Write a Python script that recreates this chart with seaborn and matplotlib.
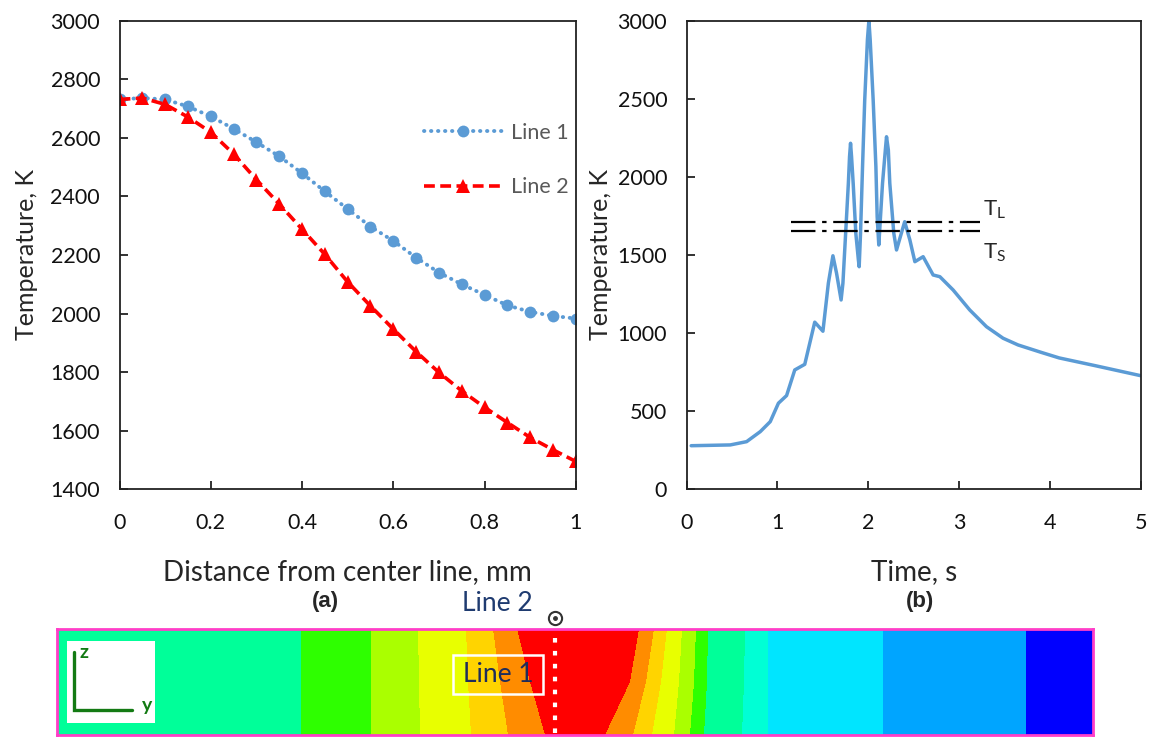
import numpy as np
import pandas as pd
import matplotlib
matplotlib.use("Agg")
import matplotlib.pyplot as plt
from matplotlib.colors import ListedColormap
from matplotlib.patches import Rectangle
from matplotlib.ticker import FuncFormatter
import seaborn as sns

# ---------------- data ----------------
distance_mm = [0, 0.05, 0.1, 0.15, 0.2, 0.25, 0.3, 0.35, 0.4, 0.45, 0.5,
               0.55, 0.6, 0.65, 0.7, 0.75, 0.8, 0.85, 0.9, 0.95, 1.0]
line1_temp = [2731, 2736, 2731, 2707, 2673, 2631, 2585, 2537, 2479, 2417, 2357,
              2297, 2248, 2191, 2140, 2100, 2064, 2028, 2006, 1992, 1983]
line2_temp = [2731, 2736, 2714, 2671, 2619, 2545, 2457, 2374, 2288, 2202, 2108,
              2026, 1947, 1870, 1799, 1736, 1680, 1628, 1577, 1535, 1495]

time_s = [0.05, 0.48, 0.66, 0.81, 0.92, 1.01, 1.10, 1.19, 1.30, 1.41, 1.50,
          1.56, 1.61, 1.65, 1.70, 1.72, 1.75, 1.78, 1.793, 1.804, 1.815, 1.833,
          1.862, 1.89, 1.899, 1.914, 1.936, 1.96, 1.99, 2.006, 2.02, 2.053,
          2.083, 2.097, 2.115, 2.156, 2.187, 2.20, 2.22, 2.236, 2.28, 2.31,
          2.40, 2.457, 2.512, 2.603, 2.713, 2.787, 2.933, 3.116, 3.30, 3.483,
          3.648, 3.90, 4.10, 4.50, 5.00]
time_temp = [279, 284, 305, 369, 433, 551, 600, 764, 800, 1070, 1012,
             1320, 1495, 1383, 1212, 1319, 1639, 1959, 2130, 2215, 2130, 1959,
             1639, 1470, 1425, 1640, 2065, 2492, 2880, 3000, 2880, 2492,
             2065, 1745, 1564, 1959, 2172, 2257, 2172, 1959, 1639, 1532,
             1713, 1596, 1457, 1489, 1372, 1361, 1276, 1148, 1041, 967,
             924, 877, 841, 791, 727]

T_liquidus = 1710
T_solidus = 1655
melt_line_span = [1.144, 3.224]

# contour strip: band colours (left -> right) and band boundaries (px from strip's left edge)
band_colors = ["#00FF99", "#2EFF00", "#AAFF00", "#E8FF00", "#FFD400", "#FF8C00",
               "#FF0000", "#FF8C00", "#FFD400", "#E8FF00", "#AAFF00", "#2EFF00",
               "#00FF99", "#00FFD5", "#00E5FF", "#00A5FF", "#0000FF"]
boundary_top = [244, 314, 361, 409, 436, 460, 582, 597, 610, 625, 639, 651, 688, 711, 826, 969]
boundary_mid = [244, 314, 362, 411, 443, 473, 573, 589, 604, 622, 637, 650, 687, 711, 826, 969]
boundary_bot = [244, 314, 363, 414, 451, 488, 548, 576, 595, 617, 633, 647, 685, 711, 826, 969]
strip_width, strip_height = 1036, 106

# ---------------- style ----------------
sns.set_style("ticks")
plt.rcParams["font.family"] = ["Lato", "DejaVu Sans"]
plt.rcParams["mathtext.fontset"] = "custom"
plt.rcParams["mathtext.rm"] = "Lato"

blue = "#5B9BD5"
red = "#FF0000"
spine_col = "#222222"
tick_fs = 15.5
xlabel_fs = 20
ylabel_fs = 18

fig = plt.figure(figsize=(11.55, 7.38), dpi=100)
axL = fig.add_axes([0.1035, 0.337, 0.395, 0.635])
axR = fig.add_axes([0.5945, 0.337, 0.3933, 0.635])
axP = fig.add_axes([0.0494, 0.0041, 0.897, 0.1436])

# ---------------- left plot ----------------
dfL = pd.DataFrame({"d": distance_mm, "l1": line1_temp, "l2": line2_temp})
sns.lineplot(data=dfL, x="d", y="l1", ax=axL, color=blue, lw=2.8,
             linestyle=(0, (0.1, 1.7)), dash_capstyle="round",
             marker="o", markersize=8.5, markeredgewidth=0, label="Line 1")
sns.lineplot(data=dfL, x="d", y="l2", ax=axL, color=red, lw=2.6,
             linestyle=(0, (3.0, 1.5)), marker="^", markersize=10.5,
             markeredgewidth=0, label="Line 2")
axL.set_xlim(0, 1)
axL.set_ylim(1400, 3000)
axL.set_xticks(np.arange(0, 1.01, 0.2))
axL.set_yticks(np.arange(1400, 3001, 200))
axL.xaxis.set_major_formatter(FuncFormatter(lambda v, p: f"{v:g}"))
axL.set_xlabel("Distance from center line, mm", fontsize=xlabel_fs, labelpad=19)
axL.set_ylabel("Temperature, K", fontsize=ylabel_fs, labelpad=9)
leg = axL.legend(loc="center right", bbox_to_anchor=(0.985, 0.703), frameon=False,
                 fontsize=15.5, handlelength=3.6, handletextpad=0.45, labelspacing=1.6,
                 borderaxespad=0, borderpad=0)
for t in leg.get_texts():
    t.set_color("#595959")

# ---------------- right plot ----------------
dfR = pd.DataFrame({"t": time_s, "T": time_temp})
sns.lineplot(data=dfR, x="t", y="T", ax=axR, color=blue, lw=2.5, sort=False,
             solid_joinstyle="round", solid_capstyle="round")
axR.hlines([T_liquidus, T_solidus], melt_line_span[0], melt_line_span[1],
           colors="black", lw=1.6, linestyles=[(0, (11, 3, 2, 3))])
axR.text(3.26, 1790, r"T$_\mathregular{L}$", fontsize=16, va="center", ha="left")
axR.text(3.26, 1515, r"T$_\mathregular{S}$", fontsize=16, va="center", ha="left")
axR.set_xlim(0, 5)
axR.set_ylim(0, 3000)
axR.set_xticks(range(0, 6))
axR.set_yticks(range(0, 3001, 500))
axR.set_xlabel("Time, s", fontsize=xlabel_fs, labelpad=19)
axR.set_ylabel("Temperature, K", fontsize=ylabel_fs, labelpad=4)

for ax in (axL, axR):
    for s in ax.spines.values():
        s.set_visible(True)
        s.set_color(spine_col)
        s.set_linewidth(1.3)
    ax.tick_params(direction="in", length=6, width=1.3, color=spine_col,
                   labelsize=tick_fs, labelcolor="#111111")
    ax.tick_params(axis="x", pad=17)
    ax.tick_params(axis="y", pad=14)
    ax.grid(False)

fig.text(325 / 1155, 1 - 601 / 738, "(a)", fontsize=16, fontweight="bold",
         family="Liberation Sans", ha="center", va="center")
fig.text(920 / 1155, 1 - 601 / 738, "(b)", fontsize=16, fontweight="bold",
         family="Liberation Sans", ha="center", va="center")

# ---------------- contour strip ----------------
rows = np.arange(strip_height) + 0.5
cols = np.arange(strip_width) + 0.5
frac = rows / strip_height
bt, bm, bb = (np.array(b, float) for b in (boundary_top, boundary_mid, boundary_bot))
field = np.zeros((strip_height, strip_width))
for i, f in enumerate(frac):
    if f <= 0.5:
        b = bt + (bm - bt) * (f / 0.5)
    else:
        b = bm + (bb - bm) * ((f - 0.5) / 0.5)
    field[i] = np.searchsorted(b, cols)
sns.heatmap(field, ax=axP, cmap=ListedColormap(band_colors), vmin=-0.5,
            vmax=len(band_colors) - 0.5, cbar=False, xticklabels=False,
            yticklabels=False, rasterized=True)
axP.set_xlim(0, strip_width)
axP.set_ylim(strip_height, 0)
for s in axP.spines.values():
    s.set_visible(True)
    s.set_color("#FF3EC8")
    s.set_linewidth(2)

line2_x = 498
axP.axvline(line2_x, ymin=0.02, ymax=0.93, color="white", lw=3,
            linestyle=(0, (1.1, 2.0)))
axP.plot([line2_x], [-11], marker="o", ms=9.5, mfc="none", mec="#333333",
         mew=1.5, clip_on=False)
axP.plot([line2_x], [-11], marker="o", ms=2.5, color="#333333", clip_on=False)
axP.text(440, -26, "Line 2", fontsize=19, color="#1F3B70", ha="center",
         va="center", clip_on=False)
axP.add_patch(Rectangle((396, 26), 90, 39, fill=False, ec="white", lw=1.8))
axP.text(441, 46, "Line 1", fontsize=19, color="#1F2D5C", ha="center", va="center")
axP.add_patch(Rectangle((10, 12), 88, 82, fc="white", ec="none"))
green = "#137A13"
axP.plot([16.5, 16.5, 75], [23, 81, 81], color=green, lw=2.4, solid_joinstyle="miter")
axP.text(27, 24, "z", fontsize=14, color=green, ha="center", va="center",
         fontweight="bold")
axP.text(90, 77, "y", fontsize=14, color=green, ha="center", va="center",
         fontweight="bold")

fig.savefig("out.png", dpi=100)
